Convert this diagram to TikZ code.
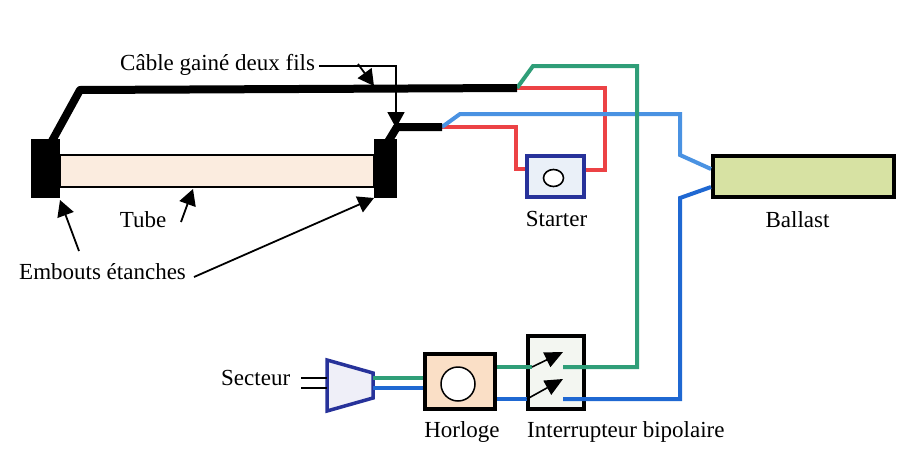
\documentclass[tikz,border=0pt]{standalone}
\usepackage{fontspec}
\setmainfont{Liberation Serif}
\usepackage{tikz}
\usetikzlibrary{arrows.meta, positioning, calc, shapes.geometric}

\definecolor{wirered}{HTML}{EC4245}
\definecolor{wirelight}{HTML}{4A92E2}
\definecolor{wiregreen}{HTML}{2F9E78}
\definecolor{wireblue}{HTML}{1F68D2}
\definecolor{navy}{HTML}{27329A}
\definecolor{tubefill}{HTML}{FBECDF}
\definecolor{clockfill}{HTML}{FADFC6}
\definecolor{ballastfill}{HTML}{D7E2A3}
\definecolor{startfill}{HTML}{EAF0F8}
\definecolor{plugfill}{HTML}{EFEFF8}
\definecolor{switchfill}{HTML}{F3F6F1}

\tikzset{
	lbl/.style={font=\fontsize{23}{25}\selectfont, inner sep=0pt},
	box/.style={rectangle, draw, line width=4pt, inner sep=0pt},
	endcap/.style={rectangle, fill=black, inner sep=0pt},
	wire/.style={line width=4pt, line join=miter},
	cable/.style={line width=8pt, line join=round},
	thin arrow/.style={-{Stealth[inset=0pt, length=16pt, width=17pt]}, line width=1.8pt},
	sw arrow/.style={-{Stealth[inset=0pt, length=18pt, width=16pt]}, line width=1.6pt},
}

\begin{document}
\begin{tikzpicture}[x=1pt, y=-1pt]
	\useasboundingbox (0, 0) rectangle (919, 458);

	\node[rectangle, draw, line width=2pt, fill=tubefill, minimum width=314pt, minimum height=32pt, inner sep=0pt] (tube) at (217, 171) {};
	\node[endcap, minimum width=29pt, minimum height=59pt] (capL) at (45.5, 168.5) {};
	\node[endcap, minimum width=23pt, minimum height=59pt] (capR) at (385.5, 168.5) {};

	\node[box, draw=navy, fill=startfill, minimum width=57pt, minimum height=41pt] (starter) at (555.5, 176.5) {};
	\node[ellipse, draw, line width=1.6pt, fill=white, minimum width=20pt, minimum height=17pt, inner sep=0pt] (startercirc) at (553.5, 178) {};
	\node[box, fill=ballastfill, minimum width=181pt, minimum height=41pt] (ballast) at (803.5, 176.5) {};
	\node[box, fill=clockfill, minimum width=70pt, minimum height=55pt] (horloge) at (460, 381.5) {};
	\node[circle, draw, line width=1.5pt, fill=white, minimum width=34pt, inner sep=0pt] (horlogecirc) at (458, 384) {};
	\node[box, fill=switchfill, minimum width=56pt, minimum height=73pt] (inter) at (556, 372.5) {};

	\coordinate (plugA) at (327, 360);
	\coordinate (plugB) at (373, 373);
	\coordinate (plugC) at (373, 398);
	\coordinate (plugD) at (327, 411);
	\draw[line width=3.5pt, draw=navy, fill=plugfill, line join=miter] (plugA) -- (plugB) -- (plugC) -- (plugD) -- cycle;

	\coordinate (cableEnd) at (517, 88);
	\coordinate (shortEnd) at (442, 127);
	\coordinate (ballastA) at (711, 169);
	\coordinate (ballastB) at (711, 187);
	\coordinate (swGreen) at (532, 367);
	\coordinate (swBlue) at (527, 399);
	\coordinate (contactGreen) at (563, 367);
	\coordinate (contactBlue) at (563, 399);

	\draw[wire, wirered] (cableEnd) -- (605, 88) -- (605, 170) -- (starter.east |- 0, 170);
	\draw[wire, wirered] (shortEnd) -- (516, 127) -- (516, 169) -- (starter.west |- 0, 169);
	\draw[wire, wirelight] (shortEnd) -- (460, 114) -- (680, 114) -- (680, 155) -- (ballastA);
	\draw[wire, wireblue] (contactBlue) -- (680, 399) -- (680, 198) -- (ballastB);
	\draw[wire, wiregreen] (cableEnd) -- (533, 66) -- (637, 66) -- (637, 367) -- (contactGreen);

	\draw[wire, wiregreen] (373, 378) -- (horloge.west |- 0, 378);
	\draw[wire, wireblue] (373, 388) -- (horloge.west |- 0, 388);
	\draw[wire, wiregreen] (horloge.east |- swGreen) -- (swGreen);
	\draw[wire, wireblue] (horloge.east |- swBlue) -- (swBlue);
	\draw[line width=1.5pt] (301, 378) -- (plugA |- 0, 378);
	\draw[line width=1.5pt] (301, 388) -- (plugA |- 0, 388);

	\draw[sw arrow] (swGreen) -- (563, 352);
	\draw[sw arrow] (swBlue) -- (563, 379);

	\draw[cable] ($(capL.north)+(5.5, 4)$) -- (80, 90) -- (cableEnd);
	\draw[cable] ($(capR.north)+(2.5, 3)$) -- (397, 127) -- (shortEnd);

	\node[lbl, anchor=base west] (cablelbl) at (120, 70) {Câble gainé deux fils};
	\node[lbl, anchor=base] (tubelbl) at (143, 227) {Tube};
	\node[lbl, anchor=base west] (emboutslbl) at (19, 279) {Embouts étanches};
	\node[lbl, below=12pt of starter, xshift=1pt] (starterlbl) {Starter};
	\node[lbl, below=12pt of ballast, xshift=-6pt] (ballastlbl) {Ballast};
	\node[lbl, anchor=base west] (secteurlbl) at (221, 385) {Secteur};
	\node[lbl, anchor=base] (horlogelbl) at (462, 437) {Horloge};
	\node[lbl, anchor=base west] (interlbl) at (527, 437) {Interrupteur bipolaire};

	\draw[thin arrow] (319, 66) -- (396, 66) -- (396, 128);
	\draw[thin arrow] (358, 64) -- (374, 86);
	\draw[thin arrow] (181, 222) -- (193, 189);
	\draw[thin arrow] (79, 251) -- (60, 200);
	\draw[thin arrow] (194, 277) -- (374, 198);
\end{tikzpicture}
\end{document}
